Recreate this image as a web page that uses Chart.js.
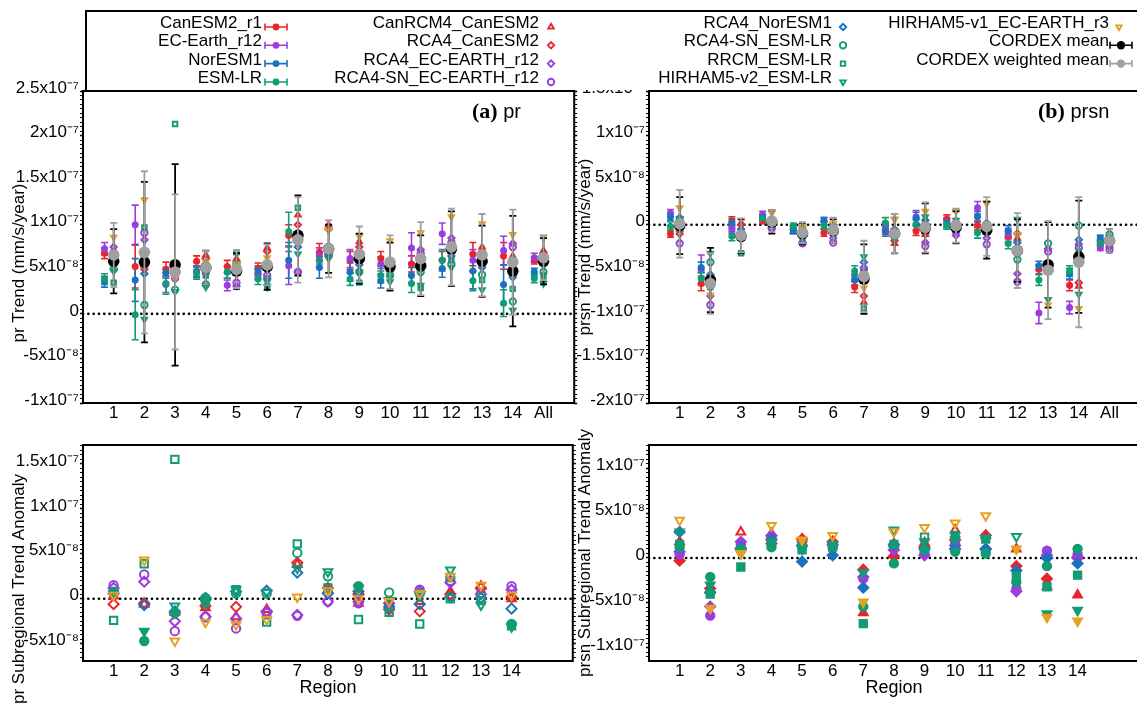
<!DOCTYPE html>
<html>
<head>
<meta charset="utf-8">
<script src="https://cdn.jsdelivr.net/npm/chart.js@4.4.1/dist/chart.umd.min.js"></script>
<style>
  html, body { margin: 0; padding: 0; background: #fff; overflow: hidden; width: 1137px; height: 705px; }
  canvas.panel { position: absolute; }
  #legend { position: absolute; left: 85px; top: 10px; width: 1070px; height: 80px; box-sizing: border-box;
            border: 2px solid #000; border-bottom: none; background: #fff; z-index: 5; }
  #legend canvas { position: absolute; left: 0; top: 0; }
  .lt { position: absolute; width: 400px; text-align: right; white-space: nowrap; color: #000;
        font: 17px "Liberation Sans", Arial, sans-serif; line-height: 20px; }
</style>
</head>
<body>
<div id="legend"></div>
<script>
// ---- Regions --------------------------------------------------------------
const regions = ['1', '2', '3', '4', '5', '6', '7', '8', '9', '10', '11', '12', '13', '14', 'All'];
const subRegions = ['1', '2', '3', '4', '5', '6', '7', '8', '9', '10', '11', '12', '13', '14'];

// ---- (a) pr trend, units of 1e-8 mm/s/year --------------------------------
// driving GCMs (value, half error bar)
const prCanESM2     = [6.8, 5.3, 5.0, 5.9, 5.3, 5.1, 8.8, 6.9, 6.0, 6.2, 5.6, 6.0, 6.7, 6.5, 6.0];
const prCanESM2Err  = [0.6, 2.4, 0.8, 0.6, 0.7, 0.6, 1.2, 1.0, 1.0, 0.8, 0.9, 1.0, 1.3, 1.5, 0.4];
const prECEarth     = [7.3, 10.0, 3.3, 4.8, 3.2, 4.5, 5.4, 6.5, 6.2, 5.6, 7.4, 9.0, 6.0, 7.1, 6.3];
const prECEarthErr  = [0.7, 2.2, 0.9, 0.6, 0.6, 0.6, 2.1, 0.9, 1.0, 0.8, 1.7, 1.2, 1.2, 1.6, 0.5];
const prNorESM1     = [3.6, 3.8, 4.6, 4.7, 4.7, 4.8, 6.0, 5.2, 4.7, 3.7, 4.3, 5.1, 4.8, 3.3, 4.7];
const prNorESM1Err  = [0.6, 2.4, 0.6, 0.6, 0.7, 0.6, 2.0, 1.2, 1.0, 0.8, 0.9, 1.0, 2.0, 2.2, 0.4];
const prESMLR       = [3.9, -0.1, 3.4, 4.6, 4.7, 3.9, 9.2, 6.0, 3.9, 4.3, 3.4, 6.0, 3.7, 1.2, 4.0];
const prESMLRErr    = [0.6, 2.8, 1.2, 0.7, 0.7, 0.6, 2.2, 0.8, 0.7, 0.8, 1.0, 1.2, 1.1, 1.5, 0.5];
// regional models
const prCanRCM4_CanESM2   = [6.3, 5.5, 5.0, 6.6, 6.2, 7.4, 11.1, 10.0, 8.1, 6.0, 6.0, 7.0, 7.5, 6.5, 7.1];
const prRCA4_CanESM2      = [6.5, 5.0, 4.8, 6.2, 5.8, 7.0, 10.0, 9.5, 7.5, 5.5, 5.8, 7.5, 7.0, 6.0, 6.8];
const prRCA4_ECEARTH      = [7.5, 8.3, 4.5, 4.5, 3.1, 4.0, 4.7, 6.5, 6.0, 5.2, 7.2, 8.5, 5.5, 7.9, 6.3];
const prRCA4SN_ECEARTH    = [6.9, 9.1, 4.0, 4.8, 3.5, 4.3, 4.7, 6.5, 6.2, 5.5, 6.8, 8.0, 6.0, 7.5, 6.0];
const prRCA4_NorESM1      = [5.5, 4.5, 4.5, 4.8, 4.8, 5.0, 7.5, 6.8, 5.5, 4.8, 5.0, 6.5, 5.2, 4.1, 5.5];
const prRCA4SN_ESMLR      = [5.0, 1.0, 2.7, 3.3, 5.6, 3.9, 9.0, 6.6, 4.7, 4.3, 4.7, 5.6, 4.4, 1.4, 4.7];
const prRRCM_ESMLR        = [3.5, 9.7, 21.3, 4.3, 6.9, 3.1, 11.9, 7.0, 3.5, 4.5, 2.9, 6.0, 3.8, 2.8, 4.3];
const prHIRHAM5v2_ESMLR   = [4.8, -0.6, 2.5, 3.0, 4.5, 3.0, 6.7, 6.2, 4.7, 3.6, 3.2, 5.2, 2.7, 0.4, 3.4];
const prHIRHAM5v1_ECEARTH = [8.6, 12.8, 4.0, 5.8, 5.6, 6.3, 9.0, 9.4, 8.7, 8.2, 9.1, 10.9, 10.1, 8.9, 8.6];
// ensemble means
const prCordexMean     = [5.9, 5.8, 5.5, 5.2, 4.8, 5.3, 8.8, 7.3, 6.2, 5.3, 5.4, 7.3, 5.9, 4.8, 5.9];
const prCordexMeanErr  = [3.6, 9.0, 11.3, 1.9, 2.0, 2.6, 4.5, 2.7, 2.8, 2.7, 3.4, 4.2, 4.0, 6.2, 2.6];
const prCordexWMean    = [6.6, 6.9, 4.7, 5.2, 5.0, 5.5, 8.3, 7.3, 6.7, 5.8, 6.2, 7.5, 6.6, 5.8, 6.3];
const prCordexWMeanErr = [3.6, 9.1, 8.7, 1.9, 2.1, 2.3, 4.8, 3.2, 3.1, 3.0, 4.1, 4.3, 4.6, 5.9, 2.5];

// ---- (b) prsn trend, units of 1e-8 mm/s/year ------------------------------
const prsnCanESM2     = [-1.0, -6.6, 0.4, 0.5, -0.5, -0.9, -7.0, -0.5, -0.7, 0.6, -0.1, -1.3, -5.0, -6.8, -2.0];
const prsnCanESM2Err  = [0.4, 0.8, 0.5, 0.4, 0.4, 0.4, 0.6, 0.6, 0.5, 0.5, 0.5, 0.6, 0.5, 0.6, 0.3];
const prsnECEarth     = [1.3, -5.0, -0.5, 1.1, -0.5, 0.4, -6.2, -0.3, 0.9, 0.3, 1.9, -1.0, -9.9, -9.3, -2.6];
const prsnECEarthErr  = [0.4, 1.6, 0.5, 0.4, 0.5, 0.4, 0.6, 0.6, 0.7, 0.5, 0.7, 0.6, 1.2, 0.7, 0.3];
const prsnNorESM1     = [0.9, -4.8, 0.2, 0.8, -0.6, 0.4, -6.2, -0.7, 0.7, 0.2, 0.9, -0.7, -4.6, -5.5, -1.5];
const prsnNorESM1Err  = [0.4, 0.6, 0.5, 0.4, 0.4, 0.4, 0.6, 0.6, 0.7, 0.5, 0.6, 0.6, 0.5, 0.6, 0.3];
const prsnESMLR       = [-0.2, -6.0, -1.3, 0.7, -0.2, -0.1, -5.2, 0.2, 0.0, 0.0, -0.9, -2.1, -6.2, -5.2, -2.1];
const prsnESMLRErr    = [0.5, 0.7, 0.5, 0.4, 0.4, 0.4, 0.6, 0.6, 0.6, 0.5, 0.6, 0.6, 0.6, 0.6, 0.3];
const prsnCanRCM4_CanESM2   = [-0.5, -6.5, 0.2, 0.5, -0.5, -0.5, -8.7, -2.1, -1.1, 0.5, 0.0, -1.5, -4.3, -6.9, -2.0];
const prsnRCA4_CanESM2      = [-1.0, -7.0, 0.0, 0.3, -0.8, -0.8, -8.0, -1.8, -1.0, 0.3, -0.3, -1.0, -4.5, -6.5, -2.2];
const prsnRCA4_ECEARTH      = [0.8, -8.0, -0.8, -0.4, -2.0, -1.5, -4.8, -1.0, -2.0, -1.2, -1.5, -5.5, -2.7, -2.2, -2.5];
const prsnRCA4SN_ECEARTH    = [-2.1, -9.0, -1.0, -0.4, -2.1, -2.0, -5.0, -0.8, -2.4, -0.8, -2.2, -6.4, -3.0, -2.6, -2.8];
const prsnRCA4_NorESM1      = [0.5, -5.6, -0.5, 0.3, -1.0, 0.0, -4.2, -0.5, 0.5, 0.0, 0.2, -2.0, -4.5, -1.7, -1.8];
const prsnRCA4SN_ESMLR      = [0.5, -4.2, -1.5, 0.2, -1.0, -0.5, -5.5, -1.3, 0.0, -0.5, -0.5, -3.9, -2.1, -0.1, -1.1];
const prsnRRCM_ESMLR        = [-0.5, -7.0, -3.2, 0.0, -1.5, -1.0, -9.4, -1.5, -0.5, -0.2, -0.8, -3.0, -4.8, -3.0, -1.5];
const prsnHIRHAM5v2_ESMLR   = [0.7, -3.2, -1.5, 0.3, -0.5, -0.5, -3.6, 0.6, 0.9, 0.5, 0.0, 0.6, -8.4, -7.8, -1.6];
const prsnHIRHAM5v1_ECEARTH = [1.9, -7.9, -1.7, 1.3, -0.2, 0.1, -7.1, 0.6, 1.5, 1.5, 2.4, -1.1, -9.0, -9.4, -2.1];
const prsnCordexMean     = [-0.1, -6.2, -1.3, 0.3, -1.0, -0.7, -6.1, -1.0, -0.4, -0.3, -0.6, -2.9, -4.5, -3.6, -1.8];
const prsnCordexMeanErr  = [3.2, 3.6, 1.9, 1.3, 1.2, 1.3, 3.9, 2.2, 2.8, 1.8, 3.2, 3.5, 4.8, 6.3, 1.3];
const prsnCordexWMean    = [0.1, -6.6, -1.2, 0.4, -0.9, -0.6, -5.8, -1.0, -0.3, -0.1, -0.2, -2.9, -5.1, -4.2, -1.8];
const prsnCordexWMeanErr = [3.8, 3.4, 1.9, 1.2, 1.2, 1.4, 4.0, 2.2, 2.8, 1.9, 3.3, 4.2, 5.5, 7.3, 1.3];

// ---- pr subregional trend anomaly, units of 1e-8 --------------------------
const prAnomCanRCM4_CanESM2   = [0.3, -0.6, -1.5, -1.0, -2.0, -1.2, 3.8, 1.0, -0.5, -0.8, -0.3, 0.8, 1.4, 0.0];
const prAnomRCA4_CanESM2      = [-0.6, -0.5, -1.6, -0.8, -0.9, -1.4, 4.0, 1.2, 0.5, -1.2, -1.4, 0.5, 1.2, 0.2];
const prAnomRCA4_ECEARTH      = [1.2, 1.9, -2.5, -2.0, -2.2, -1.4, -1.8, -0.3, -0.3, -0.5, 0.8, 1.8, 0.5, 1.0];
const prAnomRCA4SN_ECEARTH    = [1.5, 2.7, -3.6, -2.0, -3.3, -1.6, -1.9, -0.3, -0.5, -0.6, 1.0, 2.0, 0.6, 1.4];
const prAnomRCA4_NorESM1      = [0.6, -0.7, -1.4, 0.1, 0.8, 0.9, 2.9, 0.6, 0.8, -0.9, -0.6, 0.2, 0.1, -1.1];
const prAnomRCA4SN_ESMLR      = [0.8, -4.7, -1.6, 0.1, 0.6, 0.6, 5.1, 2.5, 1.4, 0.7, 0.6, 2.4, 0.1, -2.8];
const prAnomRRCM_ESMLR        = [-2.4, 3.9, 15.5, -0.3, 1.0, -2.6, 6.1, 1.2, -2.3, -1.5, -2.8, 0.0, -0.2, -3.0];
const prAnomHIRHAM5v2_ESMLR   = [0.6, -3.6, -0.8, -0.5, 1.0, 0.7, 3.4, 3.0, 1.2, -0.2, 0.3, 3.2, -0.7, -3.1];
const prAnomHIRHAM5v1_ECEARTH = [0.4, 4.3, -4.7, -2.6, -2.9, -2.3, 0.2, 0.9, 0.0, -0.3, 0.6, 2.5, 1.5, 0.4];
// [model, region] pairs whose anomaly is significant (all others are not)
const prAnomSignificant = [['RCA4-SN_ESM-LR', 2], ['HIRHAM5-v2_ESM-LR', 2], ['RCA4-SN_ESM-LR', 3],
                           ['RCA4-SN_ESM-LR', 4], ['RCA4-SN_ESM-LR', 9], ['RCA4-SN_ESM-LR', 14]];

// ---- prsn subregional trend anomaly, units of 1e-8 ------------------------
const prsnAnomCanRCM4_CanESM2   = [1.8, -3.6, 2.9, 2.7, 2.1, 1.8, -6.1, 1.6, 1.7, 3.1, 2.5, 1.0, -3.2, -4.1];
const prsnAnomRCA4_CanESM2      = [-0.3, -3.4, 1.0, 1.6, 2.1, 1.8, -1.3, 0.2, 1.2, 2.0, 2.5, -0.9, -2.3, 0.0];
const prsnAnomRCA4_ECEARTH      = [0.7, -5.4, 1.8, 2.5, 1.4, 1.5, -2.1, 0.9, 0.3, 1.4, 1.0, -3.7, 0.3, 0.1];
const prsnAnomRCA4SN_ECEARTH    = [0.4, -6.4, 1.5, 2.2, 1.2, 1.2, -2.3, 1.2, 0.5, 1.6, 0.9, -3.4, 0.8, 0.4];
const prsnAnomRCA4_NorESM1      = [2.9, -3.8, 1.1, 2.0, -0.4, 0.3, -3.3, 1.5, 1.0, 1.0, 1.0, -1.4, 0.0, -0.6];
const prsnAnomRCA4SN_ESMLR      = [1.2, -2.1, 1.0, 1.2, 1.4, 1.4, -5.4, -0.6, 0.9, 0.7, 0.5, -2.7, -0.9, 1.0];
const prsnAnomRRCM_ESMLR        = [1.5, -4.0, -1.0, 1.5, 0.9, 1.2, -7.3, 1.5, 2.3, 2.5, 2.1, -2.0, -3.2, -1.9];
const prsnAnomHIRHAM5v2_ESMLR   = [2.9, -3.0, 0.5, 1.8, 1.0, 1.5, -1.6, 3.1, 1.8, 2.0, 2.2, 2.4, -6.2, -5.8];
const prsnAnomHIRHAM5v1_ECEARTH = [4.2, -5.6, 0.5, 3.6, 2.0, 2.5, -4.9, 2.9, 3.4, 3.9, 4.7, 1.0, -6.6, -7.0];
// [model, region] pairs whose anomaly is not significant (all others are)
const prsnAnomNotSignificant = [['HIRHAM5-v1_EC-EARTH_r3', 1], ['HIRHAM5-v2_ESM-LR', 1], ['CanRCM4_CanESM2', 3],
  ['HIRHAM5-v1_EC-EARTH_r3', 4], ['HIRHAM5-v1_EC-EARTH_r3', 6], ['HIRHAM5-v1_EC-EARTH_r3', 8],
  ['HIRHAM5-v2_ESM-LR', 8], ['HIRHAM5-v1_EC-EARTH_r3', 9], ['RRCM_ESM-LR', 9], ['HIRHAM5-v1_EC-EARTH_r3', 10],
  ['CanRCM4_CanESM2', 10], ['HIRHAM5-v1_EC-EARTH_r3', 11], ['HIRHAM5-v2_ESM-LR', 12]];

// ---- Styles ---------------------------------------------------------------
const RED = '#e8262a', PURPLE = '#9a3de0', BLUE = '#1a72bf', GREEN = '#109c74',
      ORANGE = '#e8a020', BLACK = '#000000', GREY = '#a0a0a0', CLEAR = 'rgba(0,0,0,0)';
const FONT = '"Liberation Sans", Arial, Helvetica, sans-serif';

const gcmSeries = [
  { label: 'CanESM2_r1', color: RED },
  { label: 'EC-Earth_r12', color: PURPLE },
  { label: 'NorESM1', color: BLUE },
  { label: 'ESM-LR', color: GREEN },
];
const rcmSeries = [
  { label: 'CanRCM4_CanESM2', color: RED, style: 'triangle', rot: 0 },
  { label: 'RCA4_CanESM2', color: RED, style: 'rectRot', rot: 0 },
  { label: 'RCA4_EC-EARTH_r12', color: PURPLE, style: 'rectRot', rot: 0 },
  { label: 'RCA4-SN_EC-EARTH_r12', color: PURPLE, style: 'circle', rot: 0 },
  { label: 'RCA4_NorESM1', color: BLUE, style: 'rectRot', rot: 0 },
  { label: 'RCA4-SN_ESM-LR', color: GREEN, style: 'circle', rot: 0 },
  { label: 'RRCM_ESM-LR', color: GREEN, style: 'rect', rot: 0 },
  { label: 'HIRHAM5-v2_ESM-LR', color: GREEN, style: 'triangle', rot: 180 },
  { label: 'HIRHAM5-v1_EC-EARTH_r3', color: ORANGE, style: 'triangle', rot: 180 },
];
const meanSeries = [
  { label: 'CORDEX mean', color: BLACK },
  { label: 'CORDEX weighted mean', color: GREY },
];

const prGcm = [[prCanESM2, prCanESM2Err], [prECEarth, prECEarthErr], [prNorESM1, prNorESM1Err], [prESMLR, prESMLRErr]];
const prRcm = [prCanRCM4_CanESM2, prRCA4_CanESM2, prRCA4_ECEARTH, prRCA4SN_ECEARTH, prRCA4_NorESM1,
               prRCA4SN_ESMLR, prRRCM_ESMLR, prHIRHAM5v2_ESMLR, prHIRHAM5v1_ECEARTH];
const prMeans = [[prCordexMean, prCordexMeanErr], [prCordexWMean, prCordexWMeanErr]];

const prsnGcm = [[prsnCanESM2, prsnCanESM2Err], [prsnECEarth, prsnECEarthErr], [prsnNorESM1, prsnNorESM1Err], [prsnESMLR, prsnESMLRErr]];
const prsnRcm = [prsnCanRCM4_CanESM2, prsnRCA4_CanESM2, prsnRCA4_ECEARTH, prsnRCA4SN_ECEARTH, prsnRCA4_NorESM1,
                 prsnRCA4SN_ESMLR, prsnRRCM_ESMLR, prsnHIRHAM5v2_ESMLR, prsnHIRHAM5v1_ECEARTH];
const prsnMeans = [[prsnCordexMean, prsnCordexMeanErr], [prsnCordexWMean, prsnCordexWMeanErr]];

const prAnom = [prAnomCanRCM4_CanESM2, prAnomRCA4_CanESM2, prAnomRCA4_ECEARTH, prAnomRCA4SN_ECEARTH, prAnomRCA4_NorESM1,
                prAnomRCA4SN_ESMLR, prAnomRRCM_ESMLR, prAnomHIRHAM5v2_ESMLR, prAnomHIRHAM5v1_ECEARTH];
const prsnAnom = [prsnAnomCanRCM4_CanESM2, prsnAnomRCA4_CanESM2, prsnAnomRCA4_ECEARTH, prsnAnomRCA4SN_ECEARTH, prsnAnomRCA4_NorESM1,
                  prsnAnomRCA4SN_ESMLR, prsnAnomRRCM_ESMLR, prsnAnomHIRHAM5v2_ESMLR, prsnAnomHIRHAM5v1_ECEARTH];

// ---- Chart defaults & plugins ---------------------------------------------
Chart.defaults.font.family = FONT;
Chart.defaults.font.size = 17;
Chart.defaults.color = '#000';

const framePlugin = {
  id: 'frame',
  beforeDatasetsDraw(chart) {
    const { ctx, chartArea: a } = chart;
    ctx.save();
    ctx.strokeStyle = '#000';
    ctx.lineWidth = 2;
    ctx.strokeRect(a.left, a.top, a.right - a.left, a.bottom - a.top);
    ctx.restore();
  }
};
const sideTitlePlugin = {
  id: 'sideTitle',
  afterDraw(chart, args, opts) {
    if (!opts || !opts.text) return;
    const ctx = chart.ctx;
    ctx.save();
    ctx.translate(opts.x, opts.y);
    ctx.rotate(-Math.PI / 2);
    ctx.font = '17px ' + FONT;
    ctx.fillStyle = '#000';
    ctx.textAlign = 'center';
    ctx.textBaseline = 'middle';
    ctx.fillText(opts.text, 0, 0);
    ctx.restore();
  }
};
const panelTagPlugin = {
  id: 'panelTag',
  afterDraw(chart, args, opts) {
    if (!opts || !opts.tag) return;
    const ctx = chart.ctx;
    ctx.save();
    ctx.fillStyle = '#000';
    ctx.textBaseline = 'alphabetic';
    ctx.font = 'bold 22px "Liberation Serif", "DejaVu Serif", serif';
    ctx.fillText(opts.tag, opts.x, opts.y);
    const w = ctx.measureText(opts.tag).width;
    ctx.font = '20px ' + FONT;
    ctx.fillText(' ' + opts.name, opts.x + w, opts.y);
    ctx.restore();
  }
};
Chart.register(framePlugin, sideTitlePlugin, panelTagPlugin);

// tick labels in the form 5x10⁻⁸ / 1.5x10⁻⁷; values are in units of 1e-8
function sciLabel(v) {
  const half = Math.round(v * 2);
  if (half % 10 !== 0) return '';
  const n = half / 2;
  if (n === 0) return '0';
  if (Math.abs(n) < 10) return n + 'x10\u207B\u2078';
  return (n / 10) + 'x10\u207B\u2077';
}
const isMajor = (v) => Math.round(v * 2) % 10 === 0;

// ---- Dataset builders -----------------------------------------------------
const GCM_SHIFT = -0.3;

function errorBarPoints(vals, errs, shift) {
  const pts = [];
  vals.forEach((v, i) => {
    const x = i + 1 + shift;
    pts.push({ x, y: v - errs[i] }, { x, y: v + errs[i] }, { x, y: null });
  });
  return pts;
}
function markerPoints(vals, shift) {
  return vals.map((v, i) => ({ x: i + 1 + shift, y: v }));
}
function errorBarDataset(label, vals, errs, shift, color, order, width) {
  return {
    type: 'line', label, data: errorBarPoints(vals, errs, shift), order,
    borderColor: color, borderWidth: width, showLine: true, spanGaps: false, fill: false,
    pointStyle: 'line', pointRadius: 3.5, pointHoverRadius: 3.5,
    pointBorderColor: color, pointBorderWidth: width, pointBackgroundColor: color
  };
}
function markerDataset(label, vals, shift, style, rot, color, radius, fills, order, bw) {
  return {
    type: 'scatter', label, data: markerPoints(vals, shift), order,
    pointStyle: style, pointRotation: rot, pointRadius: radius, pointHoverRadius: radius,
    pointBorderColor: color, pointBorderWidth: bw, pointBackgroundColor: fills
  };
}
function zeroLine(xmax) {
  return {
    type: 'line', label: 'zero', data: [{ x: 0, y: 0 }, { x: xmax, y: 0 }], order: 200,
    borderColor: '#000', borderWidth: 2.6, borderDash: [0.1, 5.2], borderCapStyle: 'round',
    pointRadius: 0, fill: false
  };
}

function trendDatasets(gcm, rcm, means) {
  const ds = [zeroLine(16)];
  gcm.forEach(([v, e], k) => {
    const s = gcmSeries[k];
    ds.push(errorBarDataset(s.label + ' range', v, e, GCM_SHIFT, s.color, 120 - k, 1.6));
    ds.push(markerDataset(s.label, v, GCM_SHIFT, 'circle', 0, s.color, 3.5, s.color, 110 - k, 0));
  });
  rcm.forEach((v, k) => {
    const s = rcmSeries[k];
    ds.push(markerDataset(s.label, v, 0, s.style, s.rot, s.color, 3.2, CLEAR, 90 - k, 1.9));
  });
  means.forEach(([v, e], k) => {
    const s = meanSeries[k];
    ds.push(errorBarDataset(s.label + ' range', v, e, 0, s.color, 60 - 20 * k, 1.8));
    ds.push(markerDataset(s.label, v, 0, 'circle', 0, s.color, 5.8, s.color, 55 - 20 * k, 0));
  });
  return ds;
}

function anomalyDatasets(series, flagged, flaggedFilled) {
  const ds = [zeroLine(16)];
  series.forEach((v, k) => {
    const s = rcmSeries[k];
    const fills = v.map((_, i) => {
      const hit = flagged.some(([name, r]) => name === s.label && r === i + 1);
      const filled = flaggedFilled ? hit : !hit;
      return filled ? s.color : CLEAR;
    });
    const radius = s.style === 'circle' ? 4.2 : (s.style === 'rect' ? 5.2 : 5.0);
    ds.push(markerDataset(s.label, v, 0, s.style, s.rot, s.color, radius, fills, 90 - k, 2));
  });
  return ds;
}

// ---- Panel factory --------------------------------------------------------
function makePanel(g, yMin, yMax, xLabels, datasets, extras) {
  const cv = document.createElement('canvas');
  cv.className = 'panel';
  cv.width = g.width; cv.height = g.height;
  cv.style.left = g.left + 'px'; cv.style.top = g.top + 'px';
  document.body.appendChild(cv);

  const leftW = g.area.left - g.left;
  const rightW = g.left + g.width - g.area.right;
  const bottomH = g.top + g.height - g.area.bottom;
  const zeroPad = (s) => { s.paddingTop = 0; s.paddingBottom = 0; s.paddingLeft = 0; s.paddingRight = 0; };

  const yBase = (pos, showLabels, w) => ({
    type: 'linear', position: pos, min: yMin, max: yMax,
    ticks: {
      display: showLabels, stepSize: 0.5, autoSkip: false, includeBounds: false, padding: 1, labelOffset: -3,
      font: { size: 17 }, color: '#000', callback: (v) => sciLabel(v)
    },
    grid: {
      drawOnChartArea: false, drawTicks: true, tickLength: 3, tickColor: '#000',
      tickWidth: (c) => (c.tick && isMajor(c.tick.value) ? 1.6 : 1)
    },
    border: { display: false },
    afterFit: (s) => { s.width = w; zeroPad(s); }
  });

  return new Chart(cv, {
    type: 'scatter',
    data: { datasets },
    options: {
      responsive: false, animation: false, devicePixelRatio: 1, events: [],
      layout: { padding: { top: g.area.top - g.top, left: 0, right: 0, bottom: 0 } },
      plugins: {
        legend: { display: false }, tooltip: { enabled: false },
        sideTitle: extras.sideTitle, panelTag: extras.panelTag || {}
      },
      scales: {
        x: {
          type: 'linear', position: 'bottom', min: 0, max: 16,
          ticks: {
            stepSize: 1, autoSkip: false, includeBounds: false, maxRotation: 0, padding: 0,
            font: { size: 17 }, color: '#000',
            callback: (v) => (Number.isInteger(v) && v >= 1 && v <= xLabels.length ? xLabels[v - 1] : '')
          },
          grid: { display: false, drawTicks: false },
          border: { display: false },
          title: extras.xTitle ? { display: true, text: extras.xTitle, font: { size: 18 }, color: '#000',
                                   padding: { top: 0, bottom: 6 } } : { display: false },
          afterFit: (s) => { s.height = bottomH; zeroPad(s); }
        },
        y: yBase('left', true, leftW),
        y2: yBase('right', false, rightW)
      }
    }
  });
}

// ---- Panels ---------------------------------------------------------------
makePanel({ left: 0, top: 66, width: 580, height: 360, area: { left: 83, top: 91, right: 575, bottom: 403 } },
  -10, 25, regions, trendDatasets(prGcm, prRcm, prMeans),
  { sideTitle: { text: 'pr Trend (mm/s/year)', x: 19, y: 197 }, panelTag: { tag: '(a)', name: 'pr', x: 472, y: 52 } });

makePanel({ left: 570, top: 66, width: 576, height: 360, area: { left: 649, top: 91, right: 1141, bottom: 403 } },
  -20, 15, regions, trendDatasets(prsnGcm, prsnRcm, prsnMeans),
  { sideTitle: { text: 'prsn Trend (mm/s/year)', x: 15, y: 181 }, panelTag: { tag: '(b)', name: 'prsn', x: 468, y: 52 } });

makePanel({ left: 0, top: 425, width: 580, height: 280, area: { left: 83, top: 445, right: 575, bottom: 661 } },
  -6.92, 17.1, subRegions, anomalyDatasets(prAnom, prAnomSignificant, true),
  { sideTitle: { text: 'pr Subregional Trend Anomaly', x: 19, y: 164 }, xTitle: 'Region' });

makePanel({ left: 570, top: 428, width: 576, height: 277, area: { left: 649, top: 445, right: 1141, bottom: 661 } },
  -11.45, 12.56, subRegions, anomalyDatasets(prsnAnom, prsnAnomNotSignificant, false),
  { sideTitle: { text: 'prsn Subregional Trend Anomaly', x: 15, y: 125 }, xTitle: 'Region' });

// ---- Legend ---------------------------------------------------------------
(function buildLegend() {
  const box = document.getElementById('legend');
  const OX = 87, OY = 12;               // inner origin of the legend box
  const cv = document.createElement('canvas');
  cv.width = 1066; cv.height = 80;
  box.appendChild(cv);
  const ctx = cv.getContext('2d');

  const rows = [27, 45.3, 63.6, 82];
  const cols = [
    { textRight: 262, mark: 276, items: gcmSeries.map((s) => ({ ...s, kind: 'err', r: 3.4 })) },
    { textRight: 539, mark: 551, items: rcmSeries.slice(0, 4).map((s) => ({ ...s, kind: 'pt' })) },
    { textRight: 832, mark: 843, items: rcmSeries.slice(4, 8).map((s) => ({ ...s, kind: 'pt' })) },
    { textRight: 1109, mark: 1119, items: [{ ...rcmSeries[8], kind: 'pt' },
      ...meanSeries.map((s) => ({ ...s, kind: 'err', r: 4.2 }))] },
  ];

  cols.forEach((col) => {
    col.items.forEach((item, r) => {
      const y = rows[r];
      const t = document.createElement('div');
      t.className = 'lt';
      t.textContent = item.label;
      t.style.left = (col.textRight - 400 - OX) + 'px';
      t.style.top = (y - 4 - 10 - OY) + 'px';
      box.appendChild(t);

      const x = col.mark + (item.kind === 'err' && col.mark > 1000 ? 2 : 0) - OX;
      const yy = y - OY;
      ctx.save();
      ctx.strokeStyle = item.color;
      ctx.fillStyle = item.color;
      if (item.kind === 'err') {
        ctx.lineWidth = 1.6;
        ctx.beginPath();
        ctx.moveTo(x - 11, yy); ctx.lineTo(x + 11, yy);
        ctx.moveTo(x - 11, yy - 3.5); ctx.lineTo(x - 11, yy + 3.5);
        ctx.moveTo(x + 11, yy - 3.5); ctx.lineTo(x + 11, yy + 3.5);
        ctx.stroke();
        ctx.beginPath(); ctx.arc(x, yy, item.r, 0, 2 * Math.PI); ctx.fill();
      } else {
        ctx.fillStyle = CLEAR;
        ctx.lineWidth = 1.9;
        Chart.helpers.drawPoint(ctx, { pointStyle: item.style, radius: 3.2, rotation: item.rot, borderWidth: 1.9 }, x, yy);
      }
      ctx.restore();
    });
  });
})();
</script>
</body>
</html>
